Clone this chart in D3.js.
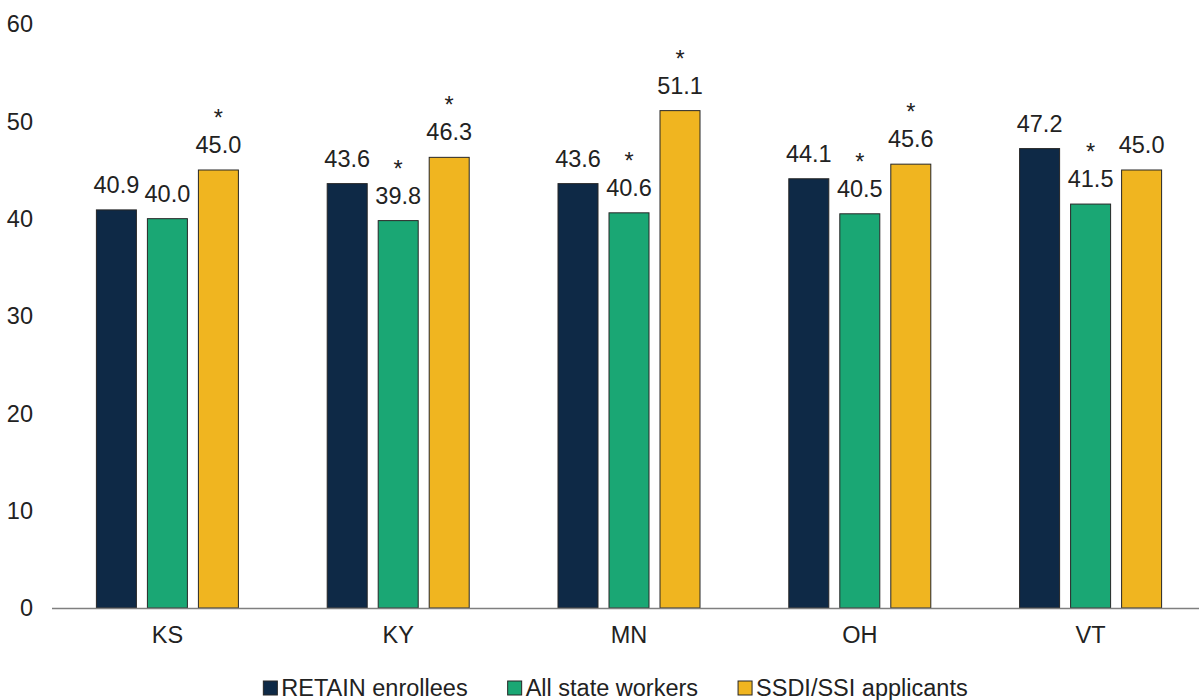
<!DOCTYPE html>
<html>
<head>
<meta charset="utf-8">
<script src="https://cdn.jsdelivr.net/npm/d3@7"></script>
<style>
  body { margin: 0; background: #fff; }
  svg { display: block; font-family: "Liberation Sans", Arial, sans-serif; }
</style>
</head>
<body>
<svg id="chart"></svg>
<script>
// data
const states = ["KS", "KY", "MN", "OH", "VT"];
const seriesNames = ["RETAIN enrollees", "All state workers", "SSDI/SSI applicants"];
const retain = [40.9, 43.6, 43.6, 44.1, 47.2];
const allWorkers = [40.0, 39.8, 40.6, 40.5, 41.5];
const ssdi = [45.0, 46.3, 51.1, 45.6, 45.0];
// significance markers (*) per series
const starRetain = [false, false, false, false, false];
const starWorkers = [false, true, true, true, true];
const starSsdi = [true, true, true, true, false];
const yTicks = [0, 10, 20, 30, 40, 50, 60];
const colors = ["#0e2946", "#1aa774", "#f0b520"];

const width = 1199, height = 700;
const margin = { top: 24, right: -7, bottom: 92, left: 52 };
const fs = "23.5px";

const svg = d3.select("#chart")
  .attr("width", width)
  .attr("height", height);

const x = d3.scaleBand()
  .domain(states)
  .range([margin.left, width - margin.right])
  .paddingInner(0)
  .paddingOuter(0);

const y = d3.scaleLinear()
  .domain([0, 60])
  .range([height - margin.bottom, margin.top]);

const barW = 40, barGap = 11;
const groupW = 3 * barW + 2 * barGap;

const rows = [];
const series = [retain, allWorkers, ssdi];
const stars = [starRetain, starWorkers, starSsdi];
states.forEach((s, i) => {
  series.forEach((vals, j) => {
    rows.push({ state: s, series: j, value: vals[i], star: stars[j][i] });
  });
});

const xPos = d => x(d.state) + x.bandwidth() / 2 - groupW / 2 + d.series * (barW + barGap);

// y tick labels
svg.append("g")
  .selectAll("text")
  .data(yTicks)
  .enter().append("text")
  .attr("x", 33)
  .attr("y", d => y(d))
  .attr("dy", "0.35em")
  .attr("text-anchor", "end")
  .style("font-size", fs)
  .attr("fill", "#222")
  .text(d => d);

// bars
svg.append("g")
  .selectAll("rect")
  .data(rows)
  .enter().append("rect")
  .attr("x", xPos)
  .attr("y", d => y(d.value))
  .attr("width", barW)
  .attr("height", d => y(0) - y(d.value))
  .attr("fill", d => colors[d.series])
  .attr("stroke", "#262626")
  .attr("stroke-width", 1);

// x axis line
svg.append("line")
  .attr("x1", margin.left)
  .attr("x2", width)
  .attr("y1", y(0) + 0.5)
  .attr("y2", y(0) + 0.5)
  .attr("stroke", "#7f7f7f")
  .attr("stroke-width", 1.5);

// value labels + stars
const labels = svg.append("g");
rows.forEach(d => {
  const cx = xPos(d) + barW / 2;
  const base = y(d.value) - 17;
  labels.append("text")
    .attr("x", cx)
    .attr("y", base)
    .attr("text-anchor", "middle")
    .style("font-size", fs)
    .attr("fill", "#222")
    .text(d.value.toFixed(1));
  if (d.star) {
    labels.append("text")
      .attr("x", cx)
      .attr("y", base - 27)
      .attr("text-anchor", "middle")
      .style("font-size", fs)
      .attr("fill", "#222")
      .text("*");
  }
});

// category labels
svg.append("g")
  .selectAll("text")
  .data(states)
  .enter().append("text")
  .attr("x", d => x(d) + x.bandwidth() / 2)
  .attr("y", 643)
  .attr("text-anchor", "middle")
  .style("font-size", fs)
  .attr("fill", "#222")
  .text(d => d);

// legend
const legend = svg.append("g");
const sw = 14, swGap = 4, itemGap = 40;
let lx = 0;
seriesNames.forEach((name, i) => {
  const g = legend.append("g");
  g.append("rect")
    .attr("x", 0).attr("y", -7)
    .attr("width", sw).attr("height", sw)
    .attr("fill", colors[i])
    .attr("stroke", "#262626")
    .attr("stroke-width", 1);
  const t = g.append("text")
    .attr("x", sw + swGap)
    .attr("y", 0)
    .attr("dy", "0.35em")
    .style("font-size", fs)
    .attr("fill", "#222")
    .text(name);
  const w = sw + swGap + t.node().getComputedTextLength();
  g.attr("transform", `translate(${lx},0)`);
  lx += w + itemGap;
});
const legendW = lx - itemGap;
legend.attr("transform", `translate(${615.5 - legendW / 2}, 688)`);
</script>
</body>
</html>
